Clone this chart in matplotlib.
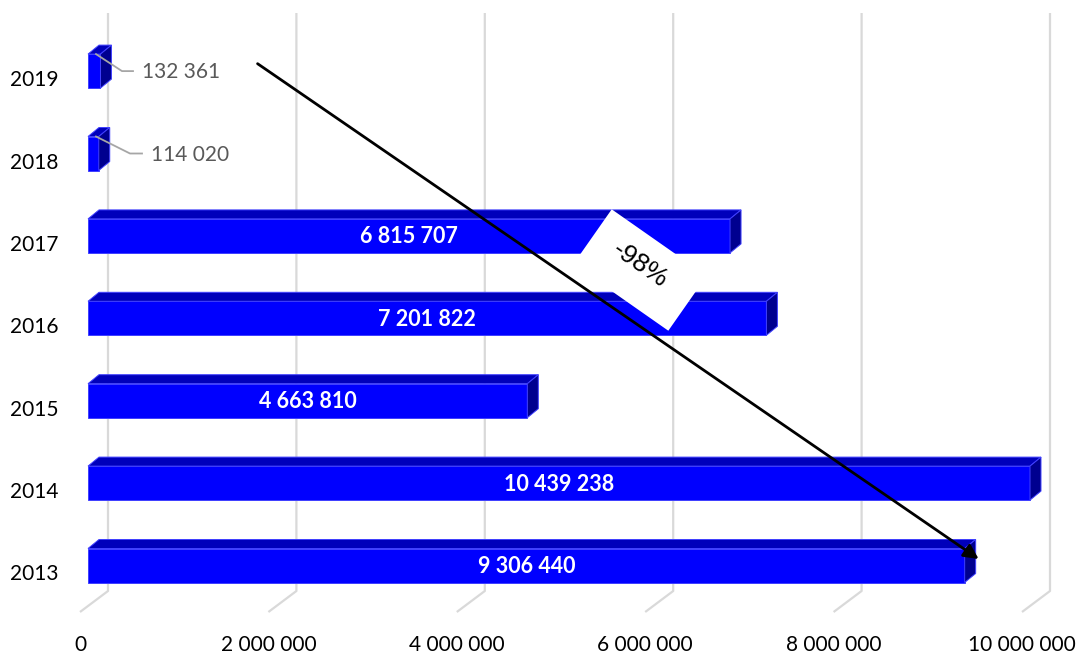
import matplotlib
matplotlib.use('AGG')

import matplotlib.pyplot as plt
import matplotlib.transforms as mtransforms
from matplotlib.patches import Rectangle, Polygon
import numpy as np

years = ['2013', '2014', '2015', '2016', '2017', '2018', '2019']
values = [9306440, 10439238, 4663810, 7201822, 6815707, 114020, 132361]
ticks = [0, 2000000, 4000000, 6000000, 8000000, 10000000]
xmax = 10000000
change_label = '-98%'

def fmt(v):
    return '{:,}'.format(v).replace(',', ' ')

# pixel -> data helpers (figure is drawn 1:1 in pixels)
UX = 1e6 / 94.2      # value units per pixel
UY = 1 / 82.4        # category units per pixel
X0 = 88              # pixel of value 0 (bar front)
YC = 565.5           # pixel of first category centre

fig = plt.figure(figsize=(10.83, 6.54), dpi=100)
ax = fig.add_axes([0, 0, 1, 1])
ax.set_xlim(-X0 * UX, (1083 - X0) * UX)
ax.set_ylim((YC - 654) * UY, YC * UY)
ax.axis('off')

plt.rcParams['font.family'] = ['Lato', 'DejaVu Sans']

# grid: back walls + floor lines
grid_c = '#d9d9d9'
y_top = (YC - 13) * UY
y_back = (YC - 591) * UY
y_front = (YC - 612) * UY
for t in ticks:
    xb = t + 20 * UX
    xf = t - 8 * UX
    ax.plot([xb, xb, xf], [y_top, y_back, y_front], color=grid_c, lw=1.6, zorder=1,
            solid_capstyle='butt')
    ax.text(xf, (YC - 645) * UY, fmt(t), ha='center', va='center', fontsize=15,
            color='#000000')

# 3D-looking bars
h = 34 * UY
dx = 11 * UX
dy = 9 * UY
front_c = '#0000ff'
top_c = '#0000bb'
side_c = '#00008f'
edge_c = '#4040ff'
for i, (yr, v) in enumerate(zip(years, values)):
    w = min(v, xmax)
    yt = i + h / 2
    yb = i - h / 2
    ax.add_patch(Rectangle((0, yb), w, h, facecolor=front_c, edgecolor=edge_c, lw=0.7, zorder=3))
    ax.add_patch(Polygon([(0, yt), (dx, yt + dy), (w + dx, yt + dy), (w, yt)],
                         closed=True, facecolor=top_c, edgecolor=edge_c, lw=0.7, zorder=3))
    ax.add_patch(Polygon([(w, yt), (w + dx, yt + dy), (w + dx, yb + dy), (w, yb)],
                         closed=True, facecolor=side_c, edgecolor=edge_c, lw=0.7, zorder=3))
    ax.text((34 - X0) * UX, i - 9 * UY, yr, ha='center', va='center', fontsize=15,
            color='#000000')
    if v > 1000000:
        ax.text(w / 2, i - 1 * UY, fmt(v), ha='center', va='center', fontsize=15.5,
                fontweight='bold', color='white', zorder=5)

# small value labels with leader lines
leaders = {5: (42, 54, 63), 6: (34, 45, 54)}
for i, (kx, ex, tx) in leaders.items():
    ax.plot([8 * UX, kx * UX, ex * UX], [i + 17 * UY, i, i], color='#a6a6a6', lw=1.3, zorder=4)
    ax.text(tx * UX, i - 1 * UY, fmt(values[i]), ha='left', va='center', fontsize=15,
            color='#595959', zorder=4)

# change box + arrow
cx, cy = 5.86e6, 3.586
box = Rectangle((-58, -33.5), 116, 67, facecolor='white', edgecolor='none', zorder=6,
                transform=mtransforms.Affine2D().rotate_deg(-35)
                + mtransforms.ScaledTranslation(cx, cy, ax.transData))
ax.add_patch(box)
ax.text(cx, cy + 5 * UY, change_label, rotation=-35, rotation_mode='anchor',
        ha='center', va='center', fontsize=19, family='Liberation Sans', zorder=7)

ax.annotate('', xy=(values[0] + 14 * UX, 0 + 6.5 * UY), xytext=(1.8e6, 6.09),
            arrowprops=dict(arrowstyle='-|>', color='black', lw=2,
                            mutation_scale=22, shrinkA=0, shrinkB=0), zorder=8)

plt.savefig('out.png', dpi=100)
